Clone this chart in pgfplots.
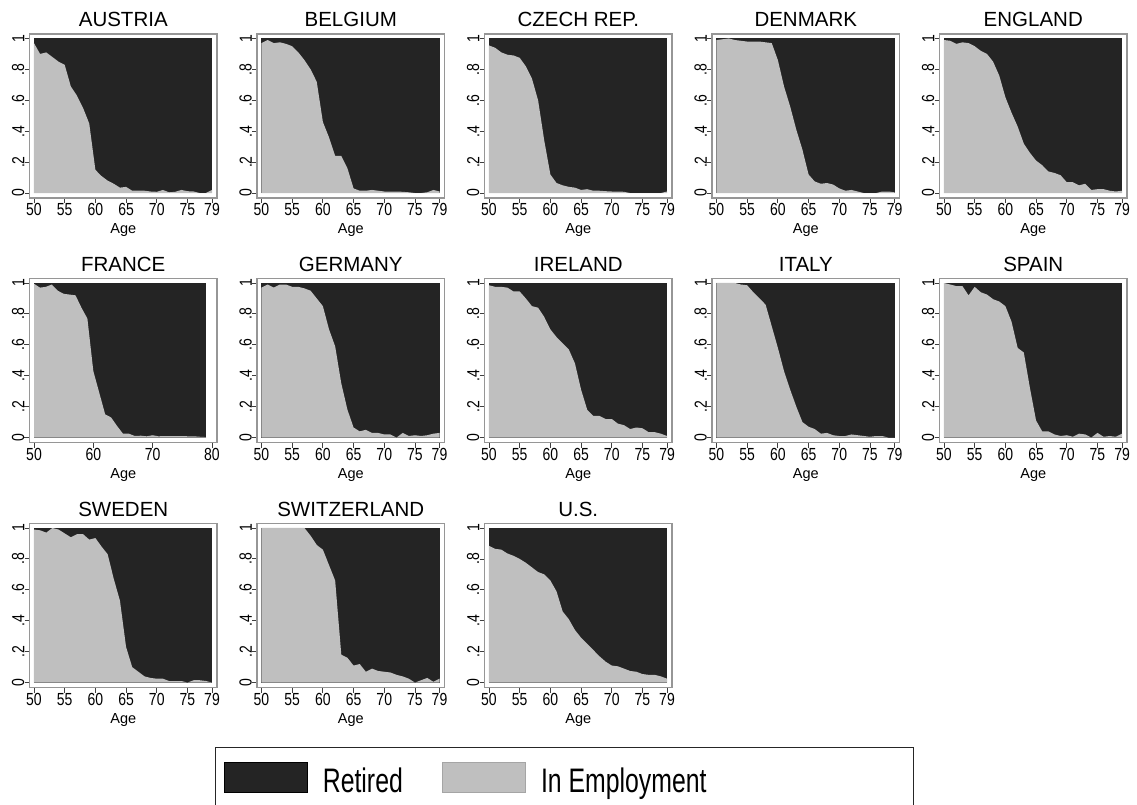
\documentclass[border=0pt]{standalone}
\usepackage{fontspec}
\setmainfont{Liberation Sans}
\usepackage{graphicx}
\usepackage{pgfplots}
\usepackage{pgfplotstable}
\pgfplotsset{compat=1.18}

\definecolor{retired}{RGB}{36,36,36}
\definecolor{employ}{RGB}{191,191,191}
\definecolor{framegray}{RGB}{150,150,150}
\definecolor{swatchedge}{RGB}{165,165,165}

% narrow setting of the tick numbers
\newcommand{\tk}[1]{\scalebox{0.8}[1]{#1}}

% share of people in employment by age (the rest is retired)
\pgfplotstableread{
age AT    BE    CZ    DK    EN    FR    DE    IE    IT    ES    SE    CH    US
50  0.97  0.97  0.955 0.99  0.99  0.995 0.97  0.985 1.0   1.0   0.99  1.0   0.885
51  0.90  0.99  0.94  0.995 0.985 0.97  0.99  0.975 1.0   0.99  0.985 1.0   0.865
52  0.91  0.97  0.91  1.0   0.965 0.975 0.97  0.975 1.0   0.98  0.97  1.0   0.86
53  0.88  0.975 0.895 0.99  0.975 0.99  0.99  0.97  1.0   0.98  1.0   1.0   0.835
54  0.85  0.965 0.89  0.985 0.97  0.95  0.99  0.945 0.99  0.92  0.99  1.0   0.82
55  0.83  0.95  0.875 0.98  0.95  0.93  0.975 0.945 0.985 0.975 0.965 1.0   0.80
56  0.69  0.91  0.82  0.98  0.92  0.925 0.975 0.90  0.94  0.94  0.94  1.0   0.775
57  0.63  0.86  0.74  0.98  0.90  0.92  0.965 0.85  0.90  0.925 0.96  1.0   0.745
58  0.55  0.80  0.60  0.975 0.85  0.84  0.95  0.84  0.86  0.895 0.96  0.95  0.715
59  0.45  0.72  0.34  0.97  0.76  0.77  0.90  0.78  0.72  0.88  0.925 0.89  0.70
60  0.15  0.46  0.12  0.86  0.62  0.43  0.85  0.70  0.58  0.85  0.935 0.86  0.66
61  0.11  0.36  0.065 0.69  0.52  0.29  0.70  0.65  0.43  0.75  0.88  0.76  0.59
62  0.08  0.24  0.05  0.56  0.43  0.15  0.59  0.61  0.31  0.58  0.83  0.66  0.46
63  0.06  0.24  0.04  0.41  0.32  0.13  0.35  0.57  0.20  0.55  0.67  0.18  0.41
64  0.035 0.16  0.035 0.28  0.26  0.075 0.18  0.48  0.10  0.32  0.53  0.16  0.34
65  0.04  0.03  0.02  0.12  0.21  0.025 0.065 0.31  0.07  0.11  0.23  0.11  0.29
66  0.015 0.015 0.025 0.075 0.18  0.025 0.04  0.18  0.055 0.04  0.10  0.12  0.25
67  0.015 0.015 0.015 0.06  0.14  0.01  0.05  0.14  0.025 0.04  0.07  0.07  0.21
68  0.015 0.02  0.015 0.065 0.13  0.012 0.03  0.14  0.03  0.02  0.04  0.09  0.17
69  0.01  0.015 0.012 0.055 0.115 0.008 0.03  0.12  0.015 0.01  0.03  0.075 0.135
70  0.008 0.01  0.01  0.03  0.07  0.015 0.02  0.12  0.01  0.015 0.025 0.07  0.11
71  0.02  0.01  0.01  0.015 0.07  0.008 0.02  0.09  0.01  0.005 0.025 0.065 0.105
72  0.005 0.01  0.008 0.02  0.05  0.01  0.0   0.08  0.02  0.025 0.01  0.05  0.09
73  0.008 0.008 0.0   0.01  0.06  0.01  0.03  0.055 0.015 0.02  0.01  0.04  0.075
74  0.02  0.005 0.0   0.0   0.02  0.01  0.01  0.065 0.01  0.0   0.01  0.025 0.07
75  0.012 0.0   0.0   0.0   0.025 0.01  0.015 0.06  0.005 0.03  0.0   0.0   0.055
76  0.01  0.0   0.0   0.0   0.025 0.008 0.01  0.035 0.01  0.005 0.015 0.015 0.05
77  0.0   0.005 0.0   0.01  0.015 0.008 0.015 0.035 0.01  0.01  0.015 0.03  0.05
78  0.0   0.02  0.0   0.01  0.01  0.005 0.025 0.025 0.0   0.005 0.01  0.005 0.04
79  0.02  0.01  0.01  0.005 0.015 0.003 0.03  0.01  0.0   0.025 0.0   0.025 0.025
}\emp

\pgfplotsset{
  panel/.style={
    scale only axis, width=187.5pt, height=164pt,
    xmin=49.27, xmax=79.81, ymin=-0.032, ymax=1.029,
    axis line style={draw=framegray, line width=1.3pt},
    xtick={50,55,60,65,70,75,79},
    xticklabels={\tk{50},\tk{55},\tk{60},\tk{65},\tk{70},\tk{75},\tk{79}},
    ytick={0,0.2,0.4,0.6,0.8,1},
    yticklabels={\tk{0},\tk{.2},\tk{.4},\tk{.6},\tk{.8},\tk{1}},
    xtick pos=bottom, ytick pos=left,
    tick align=outside, major tick length=5pt,
    tick style={draw=black!75, line width=0.8pt},
    tick label style={font=\fontsize{17.5}{19}\selectfont, inner sep=0pt},
    yticklabel style={rotate=90, anchor=south},
    xticklabel style={anchor=north},
    xticklabel shift=0.5pt,
    xlabel={Age},
    xlabel style={at={(axis description cs:0.5,0)}, anchor=base, yshift=-35.5pt,
      font=\fontsize{14.5}{16}\selectfont},
    title style={at={(axis description cs:0.5,1)}, anchor=base, yshift=1pt,
      font=\fontsize{20.5}{24}\selectfont},
  },
  retiredarea/.style={fill=retired, draw=none},
  employarea/.style={fill=employ, draw=none},
}

% one small panel: #1 left, #2 bottom, #3 title, #4 column, #5 extra options
\newcommand{\panel}[5]{%
  \begin{axis}[panel, at={(#1pt,#2pt)}, title={#3}, #5]
    \addplot[retiredarea] coordinates {(50,1) (79,1)} \closedcycle;
    \addplot[employarea] table[x=age, y=#4] {\emp} \closedcycle;
  \end{axis}}

\begin{document}
\begin{tikzpicture}
\useasboundingbox (0,0) rectangle (1137pt,804pt);

\panel{29.5}{606}{AUSTRIA}{AT}{}
\panel{257}{606}{BELGIUM}{BE}{}
\panel{484.5}{606}{CZECH REP.}{CZ}{}
\panel{712}{606}{DENMARK}{DK}{}
\panel{939.5}{606}{ENGLAND}{EN}{}

\panel{29.5}{361.5}{FRANCE}{FR}{xmin=49.24, xmax=80.85, xtick={50,60,70,80},
  xticklabels={\tk{50},\tk{60},\tk{70},\tk{80}}}
\panel{257}{361.5}{GERMANY}{DE}{}
\panel{484.5}{361.5}{IRELAND}{IE}{}
\panel{712}{361.5}{ITALY}{IT}{}
\panel{939.5}{361.5}{SPAIN}{ES}{}

\panel{29.5}{116.5}{SWEDEN}{SE}{}
\panel{257}{116.5}{SWITZERLAND}{CH}{}

\begin{axis}[panel, at={(484.5pt,116.5pt)}, title={U.S.},
  legend columns=2,
  legend cell align=left,
  legend style={at={(axis description cs:-1.437,-0.363)}, anchor=north west,
    draw=black!85, line width=1.2pt, inner xsep=8pt, inner ysep=14pt,
    font=\fontsize{34}{38}\selectfont, nodes={inner sep=0pt},
    /tikz/every odd column/.append style={column sep=15pt},
    /tikz/every even column/.append style={column sep=39pt}}]
  \addplot[retiredarea,
    legend image code/.code={\draw[fill=retired, draw=black, line width=1.2pt]
      (0pt,-10.85pt) rectangle (83pt,19.15pt);}]
    coordinates {(50,1) (79,1)} \closedcycle;
  \addlegendentry{\scalebox{0.73}[1]{Retired\vphantom{y}}}
  \addplot[employarea,
    legend image code/.code={\draw[fill=employ, draw=swatchedge, line width=1.2pt]
      (0pt,-10.85pt) rectangle (83pt,19.15pt);}]
    table[x=age, y=US] {\emp} \closedcycle;
  \addlegendentry{\scalebox{0.73}[1]{In Employment\vphantom{Rd}}\hspace*{199pt}}
\end{axis}
\end{tikzpicture}
\end{document}
